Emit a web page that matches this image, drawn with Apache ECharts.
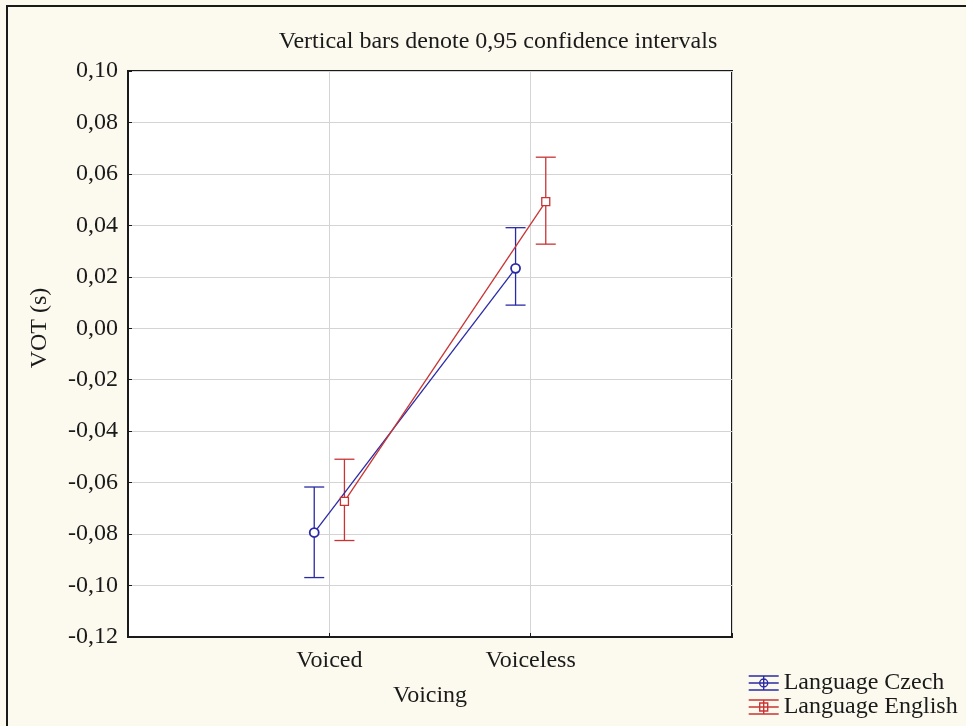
<!DOCTYPE html>
<html>
<head>
<meta charset="utf-8">
<script src="https://cdn.jsdelivr.net/npm/echarts@6/dist/echarts.min.js"></script>
<style>
  html, body { margin: 0; padding: 0; background: #fcf9ee; }
  #chart { width: 966px; height: 726px; }
</style>
</head>
<body>
<div id="chart"></div>
<script>
// Voicing categories and their positions on the x scale
const categories = ['Voiced', 'Voiceless'];
const categoryPos = [1, 2];

// Mean VOT (s) with 0,95 confidence limits
const czechMean  = [-0.0794, 0.0233];
const czechLow   = [-0.0969, 0.0090];
const czechHigh  = [-0.0617, 0.0391];
const englishMean = [-0.0673, 0.0492];
const englishLow  = [-0.0825, 0.0327];
const englishHigh = [-0.0509, 0.0665];

// Y tick range
const yMin = -0.12, yMax = 0.10, yStep = 0.02;

const FONT = '"Liberation Serif", "Times New Roman", serif';
const FS = 24;
const INK = '#1a1a1a';
const BLUE = '#2a2aa6';
const RED = '#c83434';
const DODGE = 0.075;   // horizontal offset between the two languages

function pts(mean, shift) {
  return categoryPos.map((p, i) => [p + shift, mean[i]]);
}
function bars(low, high, shift) {
  return categoryPos.map((p, i) => [p + shift, low[i], high[i]]);
}

function errorBar(color) {
  return function (params, api) {
    const x = api.value(0);
    const lo = api.coord([x, api.value(1)]);
    const hi = api.coord([x, api.value(2)]);
    const half = 10;
    const style = { stroke: color, lineWidth: 1.3 };
    return {
      type: 'group',
      children: [
        { type: 'line', shape: { x1: lo[0], y1: lo[1], x2: hi[0], y2: hi[1] }, style },
        { type: 'line', shape: { x1: lo[0] - half, y1: lo[1], x2: lo[0] + half, y2: lo[1] }, style },
        { type: 'line', shape: { x1: hi[0] - half, y1: hi[1], x2: hi[0] + half, y2: hi[1] }, style }
      ]
    };
  };
}

// Legend glyphs: whisker bars with the series marker in the middle
const iconCircle = 'path://M0,0H30M0,7H30M0,14H30M15,0V14M19,7A4,4,0,1,1,11,7A4,4,0,1,1,19,7';
const iconSquare = 'path://M0,0H30M0,7H30M0,14H30M15,0V14M11,3H19V11H11Z';

const chart = echarts.init(document.getElementById('chart'), null, { renderer: 'canvas' });

chart.setOption({
  backgroundColor: '#fcf9ee',
  animation: false,
  textStyle: { fontFamily: FONT },
  title: {
    text: 'Vertical bars denote 0,95 confidence intervals',
    left: 493,
    top: 25,
    textAlign: 'center',
    textStyle: { fontFamily: FONT, fontSize: FS, fontWeight: 'normal', color: INK }
  },
  graphic: [
    {
      type: 'rect',
      shape: { x: 7, y: 6, width: 2000, height: 2000 },
      style: { fill: 'none', stroke: INK, lineWidth: 2 },
      silent: true
    },
    {
      type: 'text',
      x: 40,
      y: 328,
      rotation: Math.PI / 2,
      style: {
        text: 'VOT (s)',
        fontFamily: FONT,
        fontSize: FS,
        fill: INK,
        align: 'center',
        verticalAlign: 'middle'
      },
      silent: true
    }
  ],
  legend: {
    orient: 'vertical',
    left: 743,
    top: 666,
    itemGap: 0,
    itemWidth: 30,
    itemHeight: 14,
    textStyle: { fontFamily: FONT, fontSize: FS, color: INK },
    data: [
      { name: 'Language Czech', icon: iconCircle,
        itemStyle: { color: 'rgba(0,0,0,0)', borderColor: BLUE, borderWidth: 1.4 } },
      { name: 'Language English', icon: iconSquare,
        itemStyle: { color: 'rgba(0,0,0,0)', borderColor: RED, borderWidth: 1.4 } }
    ]
  },
  grid: {
    left: 128,
    right: 234,
    top: 71,
    bottom: 89,
    show: true,
    backgroundColor: '#ffffff',
    borderColor: INK,
    borderWidth: 2
  },
  xAxis: {
    type: 'value',
    min: 0,
    max: 3,
    interval: 1,
    name: 'Voicing',
    nameLocation: 'middle',
    nameGap: 47,
    nameTextStyle: { fontFamily: FONT, fontSize: FS, color: INK },
    axisLine: { show: true, onZero: false, lineStyle: { color: INK, width: 2 } },
    axisTick: { show: true, inside: true, length: 4, lineStyle: { color: INK } },
    axisLabel: {
      margin: 12,
      fontFamily: FONT,
      fontSize: FS,
      color: INK,
      formatter: v => {
        const i = categoryPos.indexOf(Math.round(v));
        return (i >= 0 && Math.abs(v - categoryPos[i]) < 1e-9) ? categories[i] : '';
      }
    },
    splitLine: { show: true, lineStyle: { color: '#d4d4d4', width: 1 } }
  },
  yAxis: {
    type: 'value',
    min: yMin,
    max: yMax,
    interval: yStep,
    axisLine: { show: true, onZero: false, lineStyle: { color: INK, width: 2 } },
    axisTick: { show: true, inside: true, length: 4, lineStyle: { color: INK } },
    axisLabel: {
      margin: 10,
      fontFamily: FONT,
      fontSize: FS,
      color: INK,
      formatter: v => (Math.abs(v) < 1e-9 ? 0 : v).toFixed(2).replace('.', ',')
    },
    splitLine: { show: true, lineStyle: { color: '#d4d4d4', width: 1 } }
  },
  series: [
    {
      name: 'Language Czech',
      type: 'custom',
      renderItem: errorBar(BLUE),
      itemStyle: { color: BLUE },
      encode: { x: 0, y: [1, 2] },
      data: bars(czechLow, czechHigh, -DODGE),
      z: 2
    },
    {
      name: 'Language English',
      type: 'custom',
      renderItem: errorBar(RED),
      itemStyle: { color: RED },
      encode: { x: 0, y: [1, 2] },
      data: bars(englishLow, englishHigh, DODGE),
      z: 2
    },
    {
      name: 'Language Czech',
      type: 'line',
      data: pts(czechMean, -DODGE),
      symbol: 'circle',
      symbolSize: 9,
      showAllSymbol: true,
      lineStyle: { color: BLUE, width: 1.3 },
      itemStyle: { color: '#ffffff', borderColor: BLUE, borderWidth: 1.8 },
      z: 3
    },
    {
      name: 'Language English',
      type: 'line',
      data: pts(englishMean, DODGE),
      symbol: 'rect',
      symbolSize: 8,
      showAllSymbol: true,
      lineStyle: { color: RED, width: 1.3 },
      itemStyle: { color: '#ffffff', borderColor: RED, borderWidth: 1.3 },
      z: 3
    }
  ]
});
</script>
</body>
</html>
